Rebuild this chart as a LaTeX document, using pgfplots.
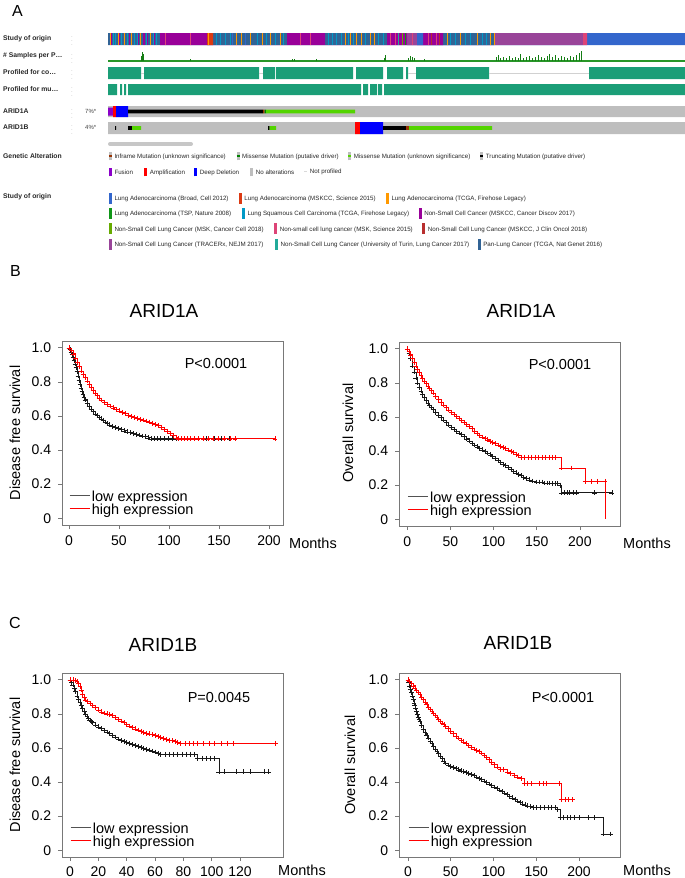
\documentclass[border=0pt]{standalone}
\usepackage{pgfplots}
\pgfplotsset{compat=1.18}
\usepackage{fontspec}
\setmainfont{Liberation Sans}

\definecolor{kmgray}{RGB}{120,120,120}
\definecolor{kmblack}{RGB}{25,25,25}
\definecolor{kmred}{RGB}{255,0,0}
% study of origin
\definecolor{stBroad}{HTML}{3366CC}
\definecolor{stMSKSci}{HTML}{DC3912}
\definecolor{stTCGAad}{HTML}{FF9900}
\definecolor{stTSP}{HTML}{109618}
\definecolor{stTCGAsq}{HTML}{0099C6}
\definecolor{stDiscov}{HTML}{990099}
\definecolor{stCell}{HTML}{66AA00}
\definecolor{stSci15}{HTML}{DD4477}
\definecolor{stJCO}{HTML}{B82E2E}
\definecolor{stTRACERx}{HTML}{994499}
\definecolor{stTurin}{HTML}{22AA99}
\definecolor{stPan}{HTML}{316395}
% alterations
\definecolor{altgray}{HTML}{BEBEBE}
\definecolor{altfus}{HTML}{8B00C9}
\definecolor{altamp}{HTML}{FF0000}
\definecolor{altdel}{HTML}{0000FF}
\definecolor{alttrunc}{HTML}{000000}
\definecolor{altinf}{HTML}{993404}
\definecolor{altmisdrv}{HTML}{008000}
\definecolor{altmis}{HTML}{53D400}
\definecolor{prof}{RGB}{27,158,119}
\definecolor{samp}{RGB}{40,150,40}
\definecolor{sampspike}{RGB}{20,125,20}

\newcommand{\lab}{\fontsize{6.8}{7}\selectfont\bfseries}
\newcommand{\lgd}{\fontsize{6.2}{7}\selectfont}
\newcommand{\kmf}{\fontsize{14.5}{15}\selectfont}
% one block of a track: colour, x from, x to, y top, y bottom (pixel units)
\newcommand{\blk}[5]{\addplot[fill=#1, draw=none] coordinates {(#2,#4) (#3,#4) (#3,#5) (#2,#5) (#2,#4)};}
\newcommand{\gsw}[1]{\textcolor{altgray}{\rule[-2pt]{3pt}{8.5pt}}\kern-3pt\textcolor{#1}{\rule[0.9pt]{3pt}{2.7pt}}}
\newcommand{\fsw}[1]{\textcolor{#1}{\rule[-2pt]{3pt}{8.5pt}}}
\newcommand{\ssw}[1]{\textcolor{#1}{\rule[-3pt]{3pt}{11pt}}}

\pgfplotsset{
  km/.style={
    scale only axis, width=221pt, height=184pt,
    ymin=-0.04, ymax=1.04,
    ytick={0,0.2,0.4,0.6,0.8,1}, yticklabels={0,0.2,0.4,0.6,0.8,1.0},
    axis line style={draw=kmgray, line width=0.7pt},
    tick align=outside, tick pos=left, major tick length=4pt,
    tick style={kmgray, line width=0.7pt},
    ticklabel style={font=\fontsize{14}{14}\selectfont},
    yticklabel style={xshift=-3.3pt},
    xticklabel style={yshift=-3.3pt},
    legend style={at={(axis cs:0,0)}, anchor=south west, draw=none, fill=none,
      inner sep=0pt, row sep=0pt, font=\kmf,
      nodes={inner xsep=2pt, inner ysep=0pt, text height=10pt, text depth=3pt}},
    legend cell align=left,
    legend image code/.code={\draw[##1] (0pt,3.6pt) -- (20pt,3.6pt);},
  },
  lo/.style={const plot, color=kmblack, line width=0.6pt, mark=+, mark size=2.4pt,
    mark options={line width=0.55pt}, forget plot},
  hi/.style={const plot, color=kmred, line width=0.6pt, mark=+, mark size=2.4pt,
    mark options={line width=0.55pt}, forget plot},
  track/.style={anchor=north west, scale only axis, width=577pt, xmin=108, xmax=685, hide axis},
}

\begin{document}
\begin{tikzpicture}
\path[use as bounding box] (0pt,0pt) rectangle (685pt,-878pt);

%% ---------------- panel A ----------------
\node[font=\fontsize{16}{16}\selectfont] at (17.5pt,-10.5pt) {A};

\foreach \yy/\tt in {38.5/Study of origin, 56/\# Samples per P…, 72.5/Profiled for co…,
                     89.5/Profiled for mu…, 111/ARID1A, 127.5/ARID1B}{
  \node[anchor=west, inner sep=0pt, font=\lab, text=black!85] at (3pt,-\yy pt) {\tt};
  \node[inner sep=0pt, text=black!30, font=\fontsize{6}{6}\selectfont] at (72pt,-\yy pt) {$\vdots$};
}
\node[anchor=west, inner sep=0pt, font=\fontsize{6}{7}\selectfont, text=black!75] at (85pt,-111pt) {7\%*};
\node[anchor=west, inner sep=0pt, font=\fontsize{6}{7}\selectfont, text=black!75] at (85pt,-127.5pt) {4\%*};

% study of origin track
\begin{axis}[track, at={(108pt,-33pt)}, height=12pt, ymin=0, ymax=1]
\addplot[const plot, fill=stPan, draw=none] coordinates {(108,1) (160,0) (213,1) (287,0) (325,1) (387,0) (443,1) (494,0)} \closedcycle;
\addplot[const plot, fill=stDiscov, draw=none] coordinates {(160,1) (207,0) (287,1) (325,0) (387,1) (407,0) (423,1) (443,0)} \closedcycle;
\addplot[const plot, fill=stMSKSci, draw=none] coordinates {(207,1) (213,0)} \closedcycle;
\addplot[const plot, fill=stTRACERx, draw=none] coordinates {(407,1) (417,0) (494,1) (583,0)} \closedcycle;
\addplot[const plot, fill=stBroad, draw=none] coordinates {(417,1) (423,0) (587,1) (685,0)} \closedcycle;
\addplot[const plot, fill=stSci15, draw=none] coordinates {(583,1) (587,0)} \closedcycle;
\addplot[ycomb, color=stTCGAad, line width=1pt] coordinates {(110,1) (118,1) (124,1) (131,1) (140.5,1) (150,1) (208.5,1) (236,1) (241,1) (250,1) (262,1) (270,1) (280,1) (345,1) (350,1) (356,1) (361,1) (370,1) (374,1) (447,1) (460,1) (477,1) (490,1) (494.5,1)};
\addplot[ycomb, color=stTCGAsq, line width=1pt] coordinates {(113,1) (115,1) (121,1) (127,1) (134,1) (137,1) (146,1) (153,1) (156,1) (216,1) (220,1) (225,1) (230,1) (257,1) (266,1) (275,1) (283,1) (328,1) (332,1) (336,1) (341,1) (348,1) (353,1) (365,1) (378,1) (383,1) (450,1) (455,1) (465,1) (470,1) (482,1) (486,1)};
\addplot[ycomb, color=stDiscov, line width=1pt] coordinates {(111,1) (119.5,1) (129,1) (138.5,1) (143,1) (144,1) (147,1) (154.5,1)};
\addplot[ycomb, color=stSci15, line width=1pt] coordinates {(165,1) (190,1) (300,1) (310,1) (390,1) (395,1) (412,1) (428,1) (436,1)};
\addplot[ycomb, color=stTSP, line width=1pt] coordinates {(405,1)};
\addplot[ycomb, color=stCell, line width=1pt] coordinates {(402,1)};
\addplot[ycomb, color=stJCO, line width=1pt] coordinates {(431,1) (439,1)};
\addplot[ycomb, color=stTurin, line width=1pt] coordinates {(398,1)};
\addplot[ycomb, color=stBroad, line width=1pt] coordinates {(232,1) (245,1)};
\end{axis}

% samples per patient track
\begin{axis}[track, at={(108pt,-49pt)}, height=12pt, ymin=0, ymax=12, clip=false]
\addplot[color=samp, line width=1.3pt] coordinates {(108,0) (685,0)};
\addplot[ycomb, color=sampspike, line width=0.8pt] coordinates {
 (141,5) (142,9) (143,7) (190,2) (292,2) (294,2) (316,2) (384,3) (385,6)
 (408,3) (410,5) (412,4) (414,3) (424,2)
 (496,4) (498,6) (500,3) (503,4) (506,3) (509,5) (512,3) (515,4) (518,3) (520,7)
 (523,3) (526,4) (529,5) (532,3) (535,4) (538,6) (541,4) (544,3) (547,5) (549,7)
 (552,4) (555,6) (558,3) (561,5) (564,4) (567,3) (570,5) (573,4) (576,6) (579,8) (581,10)};
\end{axis}

% profiled and gene tracks, in pixel units
\begin{axis}[track, at={(108pt,-30pt)}, height=120pt, ymin=30, ymax=150, y dir=reverse, clip=false]
% profiled for copy number
\blk{prof}{108}{141}{67}{79} \blk{prof}{144}{259}{67}{79} \blk{prof}{263}{275}{67}{79}
\blk{prof}{276}{353}{67}{79} \blk{prof}{356}{383}{67}{79} \blk{prof}{387}{403}{67}{79}
\blk{prof}{406}{408}{67}{79} \blk{prof}{416}{489}{67}{79} \blk{prof}{589}{685}{67}{79}
\addplot[color=black!18, line width=0.6pt] coordinates {(141,73) (144,73)};
\addplot[color=black!18, line width=0.6pt] coordinates {(259,73) (263,73)};
\addplot[color=black!18, line width=0.6pt] coordinates {(408,73) (416,73)};
\addplot[color=black!18, line width=0.6pt] coordinates {(489,73) (589,73)};
% profiled for mutations
\blk{prof}{108}{117}{84}{95} \blk{prof}{120}{122}{84}{95} \blk{prof}{124}{126}{84}{95}
\blk{prof}{128}{361}{84}{95} \blk{prof}{363}{368}{84}{95} \blk{prof}{370}{377}{84}{95}
\blk{prof}{378}{382}{84}{95} \blk{prof}{384}{685}{84}{95}
% ARID1A
\blk{altgray}{108}{685}{106}{117}
\blk{altfus}{108}{113}{107.5}{115.5}
\blk{altamp}{113}{116}{106}{117}
\blk{altdel}{116}{128}{106}{117}
\blk{alttrunc}{128}{263}{109.7}{113.3}
\blk{altinf}{263}{264.5}{109.7}{113.3}
\blk{altmisdrv}{264.5}{266}{109.7}{113.3}
\blk{altmis}{266}{355}{109.7}{113.3}
% ARID1B
\blk{altgray}{108}{685}{122}{134}
\blk{alttrunc}{115}{116}{126.2}{129.8}
\blk{alttrunc}{128}{132}{126.2}{129.8}
\blk{altmis}{132}{141}{126.2}{129.8}
\blk{alttrunc}{268}{269.5}{126.2}{129.8}
\blk{altmis}{269.5}{276}{126.2}{129.8}
\blk{altamp}{355}{360}{122}{134}
\blk{altdel}{360}{383}{122}{134}
\blk{alttrunc}{383}{406}{126.2}{129.8}
\blk{altinf}{406}{409}{126.2}{129.8}
\blk{altmis}{409}{492}{126.2}{129.8}
% scroll bar
\addplot[color=black!22, line width=4pt, line cap=round] coordinates {(110,144) (191,144)};
\end{axis}

% legends of panel A
\node[anchor=west, inner sep=0pt, font=\lab, text=black!85] at (3pt,-156pt) {Genetic Alteration};
\node[anchor=west, inner sep=0pt, font=\lab, text=black!85] at (3pt,-197pt) {Study of origin};
\begin{scope}[every node/.style={anchor=west, inner sep=0pt, font=\lgd, text=black!85}]
\node at (108.6pt,-156pt) {\gsw{altinf}\hspace{2.7pt}Inframe Mutation (unknown significance)};
\node at (236.3pt,-156pt) {\gsw{altmisdrv}\hspace{2.7pt}Missense Mutation (putative driver)};
\node at (348pt,-156pt) {\gsw{altmis}\hspace{2.7pt}Missense Mutation (unknown significance)};
\node at (480pt,-156pt) {\gsw{alttrunc}\hspace{2.7pt}Truncating Mutation (putative driver)};
\node at (108.6pt,-172pt) {\fsw{altfus}\hspace{2.7pt}Fusion};
\node at (144pt,-172pt) {\fsw{altamp}\hspace{2.7pt}Amplification};
\node at (194pt,-172pt) {\fsw{altdel}\hspace{2.7pt}Deep Deletion};
\node at (250pt,-172pt) {\fsw{altgray}\hspace{2.7pt}No alterations};
\node at (304pt,-172pt) {\textcolor{black!15}{\rule[1.5pt]{3pt}{1.5pt}}\hspace{2.7pt}Not profiled};
\node at (108.6pt,-198pt) {\ssw{stBroad}\hspace{2.7pt}Lung Adenocarcinoma (Broad, Cell 2012)};
\node at (238.5pt,-198pt) {\ssw{stMSKSci}\hspace{2.7pt}Lung Adenocarcinoma (MSKCC, Science 2015)};
\node at (385.6pt,-198pt) {\ssw{stTCGAad}\hspace{2.7pt}Lung Adenocarcinoma (TCGA, Firehose Legacy)};
\node at (108.6pt,-213pt) {\ssw{stTSP}\hspace{2.7pt}Lung Adenocarcinoma (TSP, Nature 2008)};
\node at (241.6pt,-213pt) {\ssw{stTCGAsq}\hspace{2.7pt}Lung Squamous Cell Carcinoma (TCGA, Firehose Legacy)};
\node at (418.4pt,-213pt) {\ssw{stDiscov}\hspace{2.7pt}Non-Small Cell Cancer (MSKCC, Cancer Discov 2017)};
\node at (108.6pt,-228.5pt) {\ssw{stCell}\hspace{2.7pt}Non-Small Cell Lung Cancer (MSK, Cancer Cell 2018)};
\node at (273.9pt,-228.5pt) {\ssw{stSci15}\hspace{2.7pt}Non-small cell lung cancer (MSK, Science 2015)};
\node at (422pt,-228.5pt) {\ssw{stJCO}\hspace{2.7pt}Non-Small Cell Lung Cancer (MSKCC, J Clin Oncol 2018)};
\node at (108.6pt,-244pt) {\ssw{stTRACERx}\hspace{2.7pt}Non-Small Cell Lung Cancer (TRACERx, NEJM 2017)};
\node at (274.8pt,-244pt) {\ssw{stTurin}\hspace{2.7pt}Non-Small Cell Lung Cancer (University of Turin, Lung Cancer 2017)};
\node at (477.4pt,-244pt) {\ssw{stPan}\hspace{2.7pt}Pan-Lung Cancer (TCGA, Nat Genet 2016)};
\end{scope}

%% ---------------- panel B ----------------
\node[font=\fontsize{16}{16}\selectfont] at (15.5pt,-271pt) {B};
\node[font=\fontsize{19}{19}\selectfont] at (164pt,-311pt) {ARID1A};
\node[font=\fontsize{19}{19}\selectfont] at (521pt,-311pt) {ARID1A};

% B left: disease free survival, ARID1A
\begin{axis}[km, at={(62pt,-341pt)}, anchor=north west, xmin=-7, xmax=214,
  xtick={0,50,100,150,200}, xticklabels={0,50,100,150,200}]
\addplot[lo] coordinates {
 (0,1.0) (1,0.99) (2,0.975) (3,0.96) (4,0.945) (5,0.925) (6,0.905) (7,0.885) (8,0.86)
 (9,0.835) (10,0.81) (11,0.785) (12,0.765) (13,0.745) (14,0.725) (15,0.71) (16,0.695)
 (18,0.675) (20,0.655) (22,0.64) (24,0.625) (26,0.612) (28,0.602) (30,0.592) (32,0.583)
 (34,0.575) (36,0.565) (38,0.556) (40,0.548) (43,0.54) (46,0.532) (49,0.525) (52,0.519)
 (55,0.513) (58,0.507) (61,0.502) (64,0.497) (67,0.493) (70,0.488) (73,0.483) (76,0.478)
 (79,0.472) (82,0.466) (85,0.466) (88,0.466) (91,0.466) (95,0.466) (99,0.466) (103,0.466)
 (107,0.466) (112,0.466) (118,0.466) (125,0.466) (137,0.466) (145,0.466) (152,0.466) (160,0.466)};
\addplot[hi] coordinates {
 (0,1.0) (2,0.985) (4,0.965) (6,0.94) (8,0.915) (10,0.89) (12,0.865) (14,0.845) (16,0.825)
 (18,0.805) (20,0.785) (22,0.767) (24,0.75) (26,0.735) (28,0.72) (30,0.706) (32,0.694)
 (35,0.68) (38,0.668) (41,0.658) (44,0.648) (47,0.638) (50,0.63) (53,0.622) (56,0.613)
 (59,0.605) (62,0.598) (65,0.592) (68,0.586) (71,0.581) (74,0.576) (77,0.571) (80,0.565)
 (83,0.558) (86,0.551) (89,0.543) (92,0.533) (95,0.522) (98,0.51) (101,0.498) (104,0.485)
 (107,0.472) (109,0.466) (112,0.466) (115,0.466) (118,0.466) (121,0.466) (125,0.466)
 (129,0.466) (134,0.466) (139,0.466) (144,0.466) (149,0.466) (155,0.466) (161,0.466)
 (166,0.466) (206,0.466)};
\addlegendimage{color=kmblack!75, line width=0.7pt}
\addlegendentry{low expression}
\addlegendimage{color=kmred, line width=0.7pt}
\addlegendentry{high expression}
\end{axis}
\node[font=\kmf] at (216pt,-364pt) {P<0.0001};
\node[font=\kmf, inner sep=0pt] at (313pt,-543pt) {Months};
\node[font=\kmf, rotate=90] at (15pt,-433pt) {Disease free survival};

% B right: overall survival, ARID1A
\begin{axis}[km, at={(399pt,-342pt)}, anchor=north west, xmin=-9.5, xmax=246.5,
  xtick={0,50,100,150,200}, xticklabels={0,50,100,150,200}]
\addplot[lo] coordinates {
 (0,1) (2,0.975) (4,0.945) (6,0.9) (8,0.865) (10,0.83) (12,0.8) (14,0.775) (16,0.752)
 (18,0.733) (20,0.715) (22,0.698) (24,0.683) (26,0.67) (28,0.657) (30,0.645) (33,0.628)
 (36,0.611) (39,0.597) (42,0.583) (45,0.567) (48,0.553) (51,0.54) (54,0.528) (57,0.516)
 (60,0.506) (63,0.496) (66,0.484) (69,0.472) (72,0.459) (75,0.446) (78,0.435) (81,0.425)
 (84,0.416) (87,0.407) (90,0.398) (93,0.389) (96,0.378) (99,0.367) (102,0.355) (105,0.344)
 (108,0.333) (111,0.323) (114,0.314) (117,0.303) (120,0.292) (123,0.281) (126,0.272)
 (129,0.263) (132,0.255) (135,0.247) (138,0.239) (141,0.231) (145,0.224) (150,0.218)
 (153,0.218) (156,0.218) (159,0.212) (162,0.212) (165,0.212) (168,0.208) (171,0.208)
 (174,0.208) (177,0.2) (179,0.155) (182,0.155) (185,0.155) (188,0.155) (192,0.155)
 (196,0.155) (217,0.155) (237,0.155)};
\addplot[hi] coordinates {
 (0,1) (2,0.985) (4,0.965) (6,0.945) (8,0.922) (10,0.9) (12,0.88) (14,0.862) (16,0.845)
 (18,0.828) (20,0.812) (22,0.796) (24,0.782) (26,0.768) (28,0.754) (30,0.741) (33,0.722)
 (36,0.703) (39,0.687) (42,0.671) (45,0.656) (48,0.641) (51,0.627) (54,0.614) (57,0.602)
 (60,0.591) (63,0.58) (66,0.568) (69,0.556) (72,0.544) (75,0.532) (78,0.517) (81,0.503)
 (84,0.49) (87,0.482) (90,0.474) (93,0.466) (96,0.458) (99,0.45) (102,0.443) (105,0.436)
 (108,0.429) (111,0.422) (114,0.414) (117,0.406) (120,0.398) (123,0.39) (126,0.382)
 (129,0.374) (132,0.364) (136,0.364) (140,0.364) (144,0.364) (148,0.364) (152,0.364)
 (156,0.364) (160,0.364) (164,0.364) (168,0.364) (172,0.364) (179,0.301) (190,0.301)
 (206,0.222) (213,0.222) (220,0.222) (229,0.222)};
\addplot[color=kmred, line width=0.6pt, forget plot] coordinates {(229,0.222) (229,0)};
\addlegendimage{color=kmblack!75, line width=0.7pt}
\addlegendentry{low expression}
\addlegendimage{color=kmred, line width=0.7pt}
\addlegendentry{high expression}
\end{axis}
\node[font=\kmf] at (560pt,-365pt) {P<0.0001};
\node[font=\kmf, inner sep=0pt] at (647pt,-543pt) {Months};
\node[font=\kmf, rotate=90] at (348pt,-433pt) {Overall survival};

%% ---------------- panel C ----------------
\node[font=\fontsize{16}{16}\selectfont] at (15pt,-623pt) {C};
\node[font=\fontsize{19}{19}\selectfont] at (163pt,-645pt) {ARID1B};
\node[font=\fontsize{19}{19}\selectfont] at (518pt,-643pt) {ARID1B};

% C left: disease free survival, ARID1B
\begin{axis}[km, at={(62pt,-673pt)}, anchor=north west, xmin=-5.65, xmax=150.3,
  xtick={0,20,40,60,80,100,120}, xticklabels={0,20,40,60,80,100,120},
  xticklabel style={yshift=1.5pt}]
\addplot[lo] coordinates {
 (0,1) (1,0.985) (2,0.97) (3,0.95) (4,0.93) (5,0.905) (6,0.885) (7,0.867) (8,0.85)
 (9,0.832) (10,0.815) (11,0.8) (12,0.786) (13,0.772) (14,0.762) (15,0.755) (16,0.748)
 (18,0.735) (20,0.724) (22,0.713) (24,0.703) (26,0.694) (28,0.685) (30,0.675) (32,0.664)
 (34,0.653) (36,0.645) (38,0.638) (40,0.632) (42,0.627) (44,0.62) (46,0.615) (48,0.61)
 (50,0.604) (52,0.598) (54,0.593) (56,0.588) (58,0.582) (60,0.576) (62,0.569) (64,0.563)
 (67,0.563) (70,0.563) (73,0.563) (76,0.563) (79,0.563) (82,0.563) (85,0.563) (88,0.563)
 (90,0.54) (93,0.54) (96,0.54) (99,0.54) (102,0.54) (105,0.46) (109,0.46) (117,0.46)
 (122,0.46) (127,0.46) (137,0.46) (140,0.46)};
\addplot[hi] coordinates {
 (0,1) (2,1) (4,0.995) (5,0.99) (6,0.98) (7,0.96) (8,0.94) (9,0.915) (10,0.895) (11,0.882)
 (12,0.875) (14,0.86) (16,0.848) (18,0.836) (20,0.824) (22,0.812) (24,0.805) (26,0.8)
 (28,0.797) (30,0.79) (32,0.778) (34,0.768) (36,0.758) (38,0.748) (40,0.738) (42,0.729)
 (44,0.72) (46,0.712) (48,0.705) (50,0.698) (52,0.692) (54,0.687) (56,0.683) (58,0.679)
 (60,0.673) (62,0.667) (64,0.661) (66,0.655) (68,0.65) (70,0.646) (72,0.643) (74,0.64)
 (76,0.633) (78,0.627) (81,0.627) (84,0.627) (87,0.627) (90,0.627) (94,0.627) (98,0.627)
 (102,0.627) (107,0.627) (111,0.627) (115,0.627) (145,0.627)};
\addlegendimage{color=kmblack!75, line width=0.7pt}
\addlegendentry{low expression}
\addlegendimage{color=kmred, line width=0.7pt}
\addlegendentry{high expression}
\end{axis}
\node[font=\kmf] at (219pt,-697pt) {P=0.0045};
\node[font=\kmf, inner sep=0pt] at (302pt,-870.5pt) {Months};
\node[font=\kmf, rotate=90] at (15pt,-765pt) {Disease free survival};

% C right: overall survival, ARID1B
\begin{axis}[km, at={(399pt,-673pt)}, anchor=north west, xmin=-10.5, xmax=248,
  xtick={0,50,100,150,200}, xticklabels={0,50,100,150,200},
  xticklabel style={yshift=1.5pt}]
\addplot[lo] coordinates {
 (0,1) (1,0.985) (2,0.965) (3,0.945) (4,0.925) (5,0.905) (6,0.885) (7,0.865) (8,0.85)
 (9,0.835) (10,0.815) (11,0.798) (12,0.782) (13,0.768) (14,0.755) (16,0.732) (18,0.71)
 (20,0.69) (22,0.673) (24,0.658) (26,0.642) (28,0.626) (30,0.61) (32,0.594) (34,0.58)
 (36,0.566) (38,0.552) (40,0.538) (42,0.524) (44,0.512) (47,0.5) (50,0.493) (53,0.486)
 (56,0.479) (59,0.472) (62,0.466) (65,0.461) (68,0.456) (71,0.45) (74,0.444) (77,0.437)
 (80,0.43) (83,0.422) (86,0.414) (89,0.406) (92,0.398) (95,0.389) (98,0.38) (101,0.371)
 (104,0.362) (107,0.353) (110,0.344) (113,0.336) (116,0.327) (119,0.317) (122,0.307)
 (125,0.298) (128,0.289) (131,0.28) (134,0.272) (137,0.266) (140,0.26) (143,0.255)
 (146,0.252) (150,0.25) (155,0.25) (160,0.25) (164,0.25) (168,0.25) (172,0.25) (175,0.24)
 (178,0.192) (182,0.192) (186,0.192) (190,0.192) (195,0.192) (200,0.192) (211,0.192)
 (218,0.192) (228,0.095) (237,0.095)};
\addplot[hi] coordinates {
 (0,1) (2,0.99) (4,0.978) (6,0.965) (8,0.952) (10,0.94) (12,0.926) (14,0.913) (16,0.899)
 (18,0.885) (20,0.87) (22,0.855) (24,0.84) (26,0.828) (28,0.816) (30,0.804) (32,0.792)
 (34,0.78) (36,0.769) (38,0.758) (40,0.747) (42,0.737) (44,0.728) (47,0.714) (50,0.699)
 (53,0.684) (56,0.671) (59,0.659) (62,0.647) (65,0.636) (68,0.626) (71,0.615) (74,0.604)
 (77,0.594) (80,0.586) (83,0.579) (86,0.57) (89,0.558) (92,0.545) (95,0.532) (98,0.517)
 (101,0.502) (104,0.488) (108,0.475) (112,0.475) (116,0.46) (120,0.452) (124,0.44)
 (128,0.43) (132,0.42) (136,0.391) (139,0.391) (144,0.391) (154,0.391) (158,0.391)
 (162,0.391) (177,0.391) (179,0.296) (184,0.296) (188,0.296) (192,0.296)};
\addlegendimage{color=kmblack!75, line width=0.7pt}
\addlegendentry{low expression}
\addlegendimage{color=kmred, line width=0.7pt}
\addlegendentry{high expression}
\end{axis}
\node[font=\kmf] at (563pt,-697pt) {P<0.0001};
\node[font=\kmf, inner sep=0pt] at (647pt,-870.5pt) {Months};
\node[font=\kmf, rotate=90] at (350pt,-765pt) {Overall survival};

\end{tikzpicture}
\end{document}
